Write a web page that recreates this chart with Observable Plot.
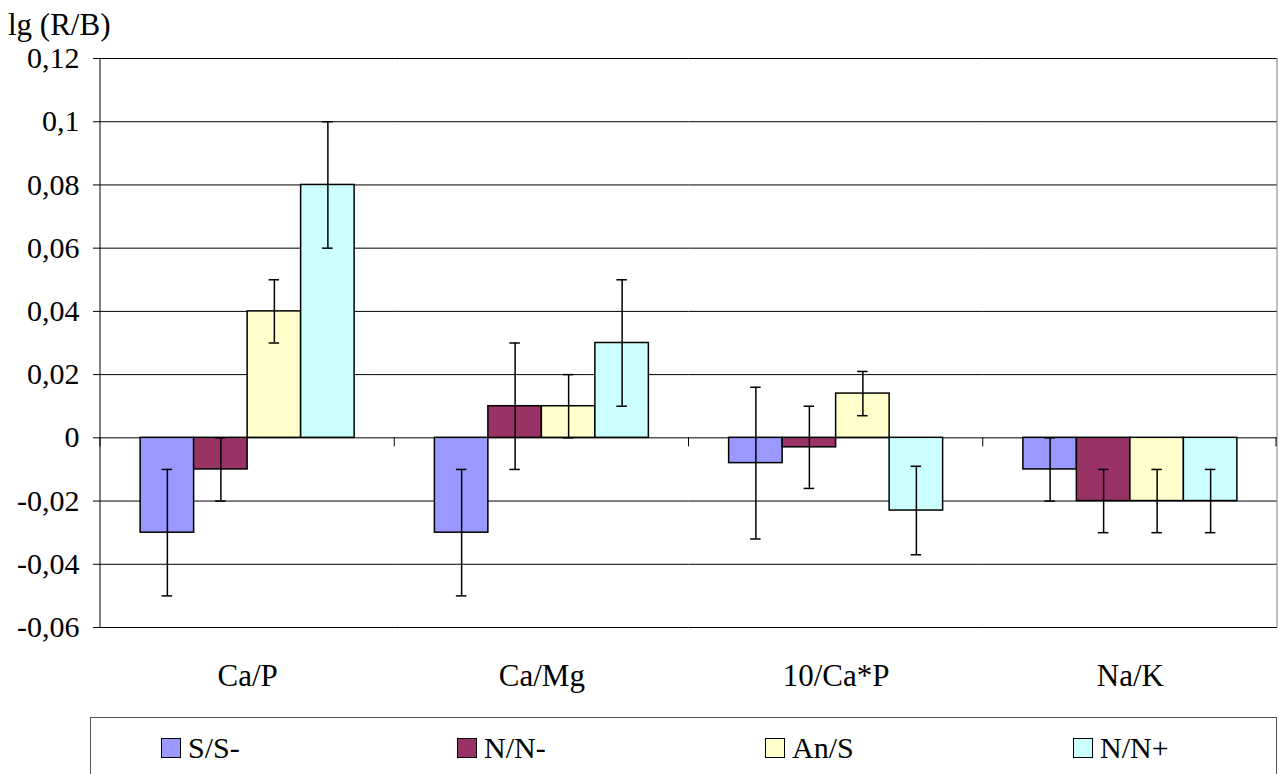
<!DOCTYPE html>
<html><head><meta charset="utf-8">
<script src="https://cdn.jsdelivr.net/npm/d3@7"></script>
<script src="https://cdn.jsdelivr.net/npm/@observablehq/plot@0.6"></script>
<style>
body{margin:0;background:#fff;font-family:"Liberation Serif","Times New Roman",serif;color:#000}
#wrap{position:relative;width:1279px;height:774px;overflow:hidden}
#ylab{position:absolute;left:8px;top:9px;font-size:31px;line-height:31px;white-space:nowrap}
#chart{position:absolute;left:0;top:0}
#legend{position:absolute;left:90px;top:717px;width:1187px;height:80px;border:1px solid #555;box-sizing:border-box}
.item{position:absolute;top:20px;font-size:30px;line-height:30px;height:20px;display:flex;align-items:center;white-space:nowrap;font-family:"Liberation Serif",serif}
.sw{width:20px;height:20px;border:1.5px solid #000;margin-right:7px;box-sizing:border-box;flex:none}
</style></head>
<body>
<div id="wrap">
  <div id="chart"></div>
  <div id="ylab">lg (R/B)</div>
  <div id="legend"></div>
</div>
<script>
const categories = ["Ca/P", "Ca/Mg", "10/Ca*P", "Na/K"];
const series = ["S/S-", "N/N-", "An/S", "N/N+"];
const seriesColors = ["#9999FF", "#993366", "#FFFFCC", "#CCFFFF"];

const ssValues      = [-0.03, -0.03, -0.008, -0.01];
const nnMinusValues = [-0.01,  0.01, -0.003, -0.02];
const anSValues     = [ 0.04,  0.01,  0.014, -0.02];
const nnPlusValues  = [ 0.08,  0.03, -0.023, -0.02];

const ssErr      = [0.02, 0.02, 0.024, 0.01];
const nnMinusErr = [0.01, 0.02, 0.013, 0.01];
const anSErr     = [0.01, 0.01, 0.007, 0.01];
const nnPlusErr  = [0.02, 0.02, 0.014, 0.01];

const yTicks = [-0.06, -0.04, -0.02, 0, 0.02, 0.04, 0.06, 0.08, 0.1, 0.12];

const valueLists = [ssValues, nnMinusValues, anSValues, nnPlusValues];
const errLists = [ssErr, nnMinusErr, anSErr, nnPlusErr];

const data = [];
categories.forEach((cat, ci) => {
  series.forEach((s, si) => {
    const v = valueLists[si][ci], e = errLists[si][ci];
    data.push({cat, series: s, value: v, lo: v - e, hi: v + e});
  });
});

const fmt = v => {
  const r = Math.round(v * 100) / 100;
  return String(r).replace(".", ",");
};

const serif = "'Liberation Serif', 'Times New Roman', serif";

const plot = Plot.plot({
  width: 1279, height: 700,
  marginTop: 58, marginBottom: 73, marginLeft: 100, marginRight: 2,
  style: {fontFamily: serif, fontSize: "30px", color: "#000", background: "transparent", overflow: "visible"},
  fx: {domain: categories, paddingInner: 0, paddingOuter: 0, label: null, round: false},
  x: {domain: series, paddingInner: 0, paddingOuter: 0.75, axis: null, round: false},
  y: {domain: [-0.06, 0.12], label: null},
  color: {domain: series, range: seriesColors},
  marks: [
    Plot.gridY(yTicks, {stroke: "#000", strokeOpacity: 1, strokeWidth: 1}),
    Plot.barY(data, {fx: "cat", x: "series", y: "value", fill: "series", stroke: "#000", strokeWidth: 1.5}),
    Plot.ruleX(data, {fx: "cat", x: "series", y1: "lo", y2: "hi", stroke: "#000", strokeWidth: 1.5}),
    Plot.tickY(data, {fx: "cat", x: "series", y: "lo", stroke: "#000", strokeWidth: 1.5, insetLeft: 21.5, insetRight: 21.5}),
    Plot.tickY(data, {fx: "cat", x: "series", y: "hi", stroke: "#000", strokeWidth: 1.5, insetLeft: 21.5, insetRight: 21.5}),
    Plot.axisY({ticks: yTicks, tickFormat: fmt, tickSize: 7, tickPadding: 14, fontSize: 30, fontFamily: serif, stroke: "#000", fill: "#000"}),
    Plot.axisFx({anchor: "bottom", tickSize: 0, tickPadding: 36, fontSize: 31, fontFamily: serif, fill: "#000", label: null})
  ]
});
document.getElementById("chart").appendChild(plot);

// axis lines and category boundary ticks, from the plot's own scales
const fxScale = plot.scale("fx"), yScale = plot.scale("y");
const svg = d3.select(plot);
const yTop = yScale.apply(0.12), yBottom = yScale.apply(-0.06), yZero = yScale.apply(0);
const xLeft = fxScale.apply(categories[0]);
const xRight = fxScale.apply(categories[categories.length - 1]) + fxScale.bandwidth;
const g = svg.append("g").attr("stroke", "#000").attr("stroke-width", 1);
g.append("line").attr("x1", xLeft).attr("x2", xLeft).attr("y1", yTop).attr("y2", yBottom);
g.append("line").attr("x1", xRight).attr("x2", xRight).attr("y1", yTop).attr("y2", yBottom).attr("stroke", "#808080");
categories.forEach(c => {
  const xb = fxScale.apply(c);
  g.append("line").attr("x1", xb).attr("x2", xb).attr("y1", yZero).attr("y2", yZero + 9);
});
g.append("line").attr("x1", xRight - 1).attr("x2", xRight - 1).attr("y1", yZero).attr("y2", yZero + 9);

// legend
const legendLeft = [70, 366, 674, 982];
const legend = d3.select("#legend");
series.forEach((s, i) => {
  const it = legend.append("div").attr("class", "item").style("left", legendLeft[i] + "px");
  it.append("div").attr("class", "sw").style("background", seriesColors[i]);
  it.append("span").text(s);
});
</script>
</body></html>
